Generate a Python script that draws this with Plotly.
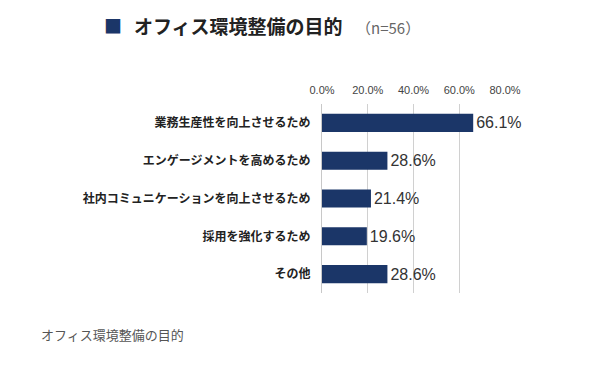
import plotly.graph_objects as go

categories = ["業務生産性を向上させるため", "エンゲージメントを高めるため",
              "社内コミュニケーションを向上させるため", "採用を強化するため", "その他"]
values = [66.1, 28.6, 21.4, 19.6, 28.6]
tick_vals = [0, 20, 40, 60, 80]
tick_text = ["0.0%", "20.0%", "40.0%", "60.0%", "80.0%"]

FONT = "Noto Sans CJK JP"
NUMFONT = "Liberation Sans, Noto Sans CJK JP"
NAVY = "#1b3668"

# page body has an 8px default margin; work in reference pixel coords minus 8
OFF = 8
W, H = 593 - 2 * OFF, 365 - 2 * OFF
ml, mt = 322 - OFF, 104 - OFF
mr = W - (505 - OFF)
mb = H - (293 - OFF)
pw, ph = W - ml - mr, H - mt - mb


def px(x):
    return (x - OFF - ml) / pw


def py(y):
    return 1 - (y - OFF - mt) / ph


fig = go.Figure(go.Bar(
    x=values, y=categories, orientation="h",
    marker=dict(color=NAVY, line=dict(width=0)),
    width=0.48,
    text=[f"{v:.1f}%" for v in values], textposition="outside",
    textfont=dict(family=NUMFONT, size=16, color="#333333"),
    cliponaxis=False,
))

fig.update_layout(
    width=W, height=H,
    margin=dict(l=ml, r=mr, t=mt, b=mb),
    paper_bgcolor="white", plot_bgcolor="white",
    showlegend=False,
    font=dict(family=FONT),
    xaxis=dict(range=[0, 80], side="top", tickvals=tick_vals, ticktext=tick_text,
               tickfont=dict(family=NUMFONT, size=11, color="#444444"),
               showgrid=True, gridcolor="#d0d0d0", gridwidth=1, zeroline=False,
               showline=False, ticks="", fixedrange=True, ticklabelstandoff=7),
    yaxis=dict(autorange="reversed", showgrid=False, zeroline=False,
               showline=True, linecolor="#c8c8c8", linewidth=1,
               tickfont=dict(family=FONT, size=12, color="#222222", weight="bold"),
               ticks="", ticklabelstandoff=8),
)

fig.add_annotation(text="■", x=px(113), y=py(25), xref="paper", yref="paper",
                   showarrow=False, font=dict(family=FONT, size=18, color=NAVY),
                   xanchor="center", yanchor="middle")
fig.add_annotation(text="<b>オフィス環境整備の目的</b>", x=px(132), y=py(25),
                   xref="paper", yref="paper", showarrow=False,
                   font=dict(family=FONT, size=19, color="#222222"),
                   xanchor="left", yanchor="middle")
fig.add_annotation(text="（n=56）", x=px(354), y=py(27), xref="paper", yref="paper",
                   showarrow=False, font=dict(family=FONT, size=15, color="#666666"),
                   xanchor="left", yanchor="middle")
fig.add_annotation(text="オフィス環境整備の目的", x=px(39), y=py(334), xref="paper",
                   yref="paper", showarrow=False,
                   font=dict(family=FONT, size=13, color="#555555"),
                   xanchor="left", yanchor="middle")

fig.write_html("out.html")
